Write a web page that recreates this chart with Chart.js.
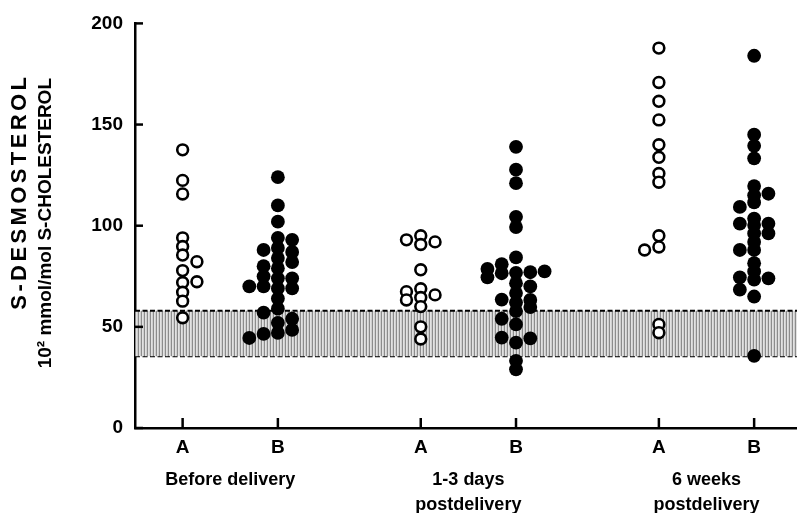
<!DOCTYPE html>
<html><head><meta charset="utf-8">
<script src="https://cdn.jsdelivr.net/npm/chart.js@4.4.1/dist/chart.umd.min.js"></script>
<style>html,body{margin:0;padding:0;background:#fff;overflow:hidden}#wrap{width:797px;height:513px}</style>
</head><body><div id="wrap"><canvas id="c" width="797" height="513"></canvas></div>
<script>
// ---- data ----
const categories = ['A', 'B', 'A', 'B', 'A', 'B'];
const categoryPos = [0, 1, 2.5, 3.5, 5, 6];
const groupLabels = [['Before delivery'], ['1-3 days', 'postdelivery'], ['6 weeks', 'postdelivery']];
const groupPos = [0.5, 3, 5.5];
const yTickValues = [0, 50, 100, 150, 200];
const referenceRange = [35.5, 58];
const yTitleLines = ['S-DESMOSTEROL', '10\u00B2 mmol/mol S-CHOLESTEROL'];

const beforeA = [137.5, 122.4, 115.7, 94, 89.7, 85.5, 77.8, 71.9, 67.1, 62.7, 54.5, 82.2, 72.3];
const beforeALanes = [0, 0, 0, 0, 0, 0, 0, 0, 0, 0, 0, 1, 1];
const beforeB = [124, 110, 102, 94, 89, 84, 79, 74, 69, 64, 59, 52, 47, 88, 80, 75, 70, 57, 46.5, 70, 44.5, 93, 87, 82, 74, 69, 54, 48.5];
const beforeBLanes = [0, 0, 0, 0, 0, 0, 0, 0, 0, 0, 0, 0, 0, -1, -1, -1, -1, -1, -1, -2, -2, 1, 1, 1, 1, 1, 1, 1];
const days13A = [95, 90.7, 78.2, 68.8, 64.5, 60, 50, 44, 93, 67.4, 63.3, 92, 65.8];
const days13ALanes = [0, 0, 0, 0, 0, 0, 0, 0, -1, -1, -1, 1, 1];
const days13B = [139, 127.7, 121, 104.4, 99.3, 84.3, 76.7, 71.6, 66.7, 62, 57.8, 51.2, 42.2, 33.2, 29, 78.6, 74.5, 81, 76.5, 63.5, 54, 44.7, 77, 70, 63.3, 59.8, 44.3, 77.4];
const days13BLanes = [0, 0, 0, 0, 0, 0, 0, 0, 0, 0, 0, 0, 0, 0, 0, -2, -2, -1, -1, -1, -1, -1, 1, 1, 1, 1, 1, 2];
const weeks6A = [187.8, 170.8, 161.5, 152.3, 140, 133.8, 125.8, 121.5, 95, 89.5, 51.2, 47.1, 88];
const weeks6ALanes = [0, 0, 0, 0, 0, 0, 0, 0, 0, 0, 0, 0, -1];
const weeks6B = [184, 145, 139.5, 133.3, 119.6, 115, 111.5, 103.5, 100.3, 96.2, 92, 88, 81.5, 77.4, 73.3, 65, 35.7, 109.3, 101, 88, 74.4, 68.4, 115.8, 101, 96.2, 74];
const weeks6BLanes = [0, 0, 0, 0, 0, 0, 0, 0, 0, 0, 0, 0, 0, 0, 0, 0, 0, -1, -1, -1, -1, -1, 1, 1, 1, 1];

// ---- styling ----
const X_MIN = -0.5, X_MAX = 6.45;
const LANE = 0.15;
const FONT = '"Liberation Sans", Arial, Helvetica, sans-serif';
function pts(pos, vals, lanes) { return vals.map((v, i) => ({ x: pos + lanes[i] * LANE, y: v })); }

const canvas = document.getElementById('c');
const ctx0 = canvas.getContext('2d');
const hatch = document.createElement('canvas');
hatch.width = 3; hatch.height = 4;
const hg = hatch.getContext('2d');
hg.fillStyle = '#e2e2e2'; hg.fillRect(0, 0, 3, 4);
hg.fillStyle = '#8c8c8c'; hg.fillRect(0, 0, 1, 4);
hg.fillStyle = '#cfcfcf'; hg.fillRect(2, 0, 1, 4);
const hatchPattern = ctx0.createPattern(hatch, 'repeat');

const openStyle = { pointRadius: 5.4, pointHoverRadius: 5.4, pointBorderWidth: 2.6, pointHoverBorderWidth: 2.6, pointBackgroundColor: '#fff', pointBorderColor: '#000', showLine: false };
const filledStyle = { pointRadius: 6.9, pointHoverRadius: 6.9, pointBorderWidth: 0, pointBackgroundColor: '#000', pointBorderColor: '#000', showLine: false };

const seriesList = [
  [beforeA, beforeALanes, openStyle], [beforeB, beforeBLanes, filledStyle],
  [days13A, days13ALanes, openStyle], [days13B, days13BLanes, filledStyle],
  [weeks6A, weeks6ALanes, openStyle], [weeks6B, weeks6BLanes, filledStyle]
];
const pointDatasets = seriesList.map((s, i) => Object.assign({
  type: 'scatter', label: categories[i], data: pts(categoryPos[i], s[0], s[1]), order: 1
}, s[2]));

const bandDatasets = [
  { type: 'line', label: 'ref-high', data: [{ x: X_MIN, y: referenceRange[1] }, { x: X_MAX, y: referenceRange[1] }],
    borderColor: '#000', borderWidth: 2, borderDash: [5, 2.5], pointRadius: 0, fill: '+1', backgroundColor: hatchPattern, order: 10 },
  { type: 'line', label: 'ref-low', data: [{ x: X_MIN, y: referenceRange[0] }, { x: X_MAX, y: referenceRange[0] }],
    borderColor: '#000', borderWidth: 2, borderDash: [5, 2.5], pointRadius: 0, fill: false, order: 10 }
];

const innerTicks = {
  id: 'innerTicks',
  afterDraw(chart) {
    const c = chart.ctx, ca = chart.chartArea;
    const ys = chart.scales.y, xs = chart.scales.x;
    c.save();
    c.strokeStyle = '#000'; c.lineWidth = 2.5;
    ys.ticks.forEach(t => { const y = ys.getPixelForValue(t.value); c.beginPath(); c.moveTo(ca.left, y); c.lineTo(ca.left + 8, y); c.stroke(); });
    xs.ticks.forEach(t => { const x = xs.getPixelForValue(t.value); c.beginPath(); c.moveTo(x, ca.bottom); c.lineTo(x, ca.bottom - 10); c.stroke(); });
    c.restore();
  }
};

function drawSpaced(c, text, xEnd, y, spacing) {
  const chars = Array.from(text);
  const widths = chars.map(ch => c.measureText(ch).width);
  const total = widths.reduce((a, b) => a + b, 0) + spacing * (chars.length - 1);
  let x = xEnd - total;
  c.textAlign = 'left';
  chars.forEach((ch, i) => { c.fillText(ch, x, y); x += widths[i] + spacing; });
}

const yTitle = {
  id: 'yTitle',
  afterDraw(chart) {
    const c = chart.ctx;
    c.save();
    c.fillStyle = '#000';
    c.textBaseline = 'middle';
    c.save();
    c.translate(20, 77); c.rotate(-Math.PI / 2);
    c.font = 'bold 22px ' + FONT;
    drawSpaced(c, yTitleLines[0], 0, 0, 3.4);
    c.restore();
    c.save();
    c.translate(46, 78); c.rotate(-Math.PI / 2);
    c.font = 'bold 19px ' + FONT;
    drawSpaced(c, yTitleLines[1], 0, 0, 0);
    c.restore();
    c.restore();
  }
};

const noSidePad = s => { s.paddingLeft = 0; s.paddingRight = 0; };

new Chart(canvas, {
  data: { datasets: [...bandDatasets, ...pointDatasets] },
  options: {
    responsive: false, animation: false, devicePixelRatio: 1,
    layout: { autoPadding: false, padding: { top: 20, left: 0, right: 0, bottom: 0 } },
    plugins: { legend: { display: false }, tooltip: { enabled: false }, title: { display: false } },
    scales: {
      x: {
        type: 'linear', min: X_MIN, max: X_MAX, position: 'bottom', weight: 0, z: 1,
        grid: { display: false, drawTicks: false },
        border: { display: true, color: '#000', width: 2.5 },
        afterBuildTicks: s => { s.ticks = categoryPos.map(v => ({ value: v })); },
        ticks: { callback: (v, i) => categories[i], font: { family: FONT, size: 19, weight: 'bold' }, color: '#000', padding: 8, autoSkip: false, maxRotation: 0 },
        afterFit: s => { s.height = 30; noSidePad(s); }
      },
      x2: {
        type: 'linear', min: X_MIN, max: X_MAX, position: 'bottom', weight: 1,
        grid: { display: false, drawTicks: false },
        border: { display: false },
        afterBuildTicks: s => { s.ticks = groupPos.map(v => ({ value: v })); },
        ticks: { callback: (v, i) => groupLabels[i], font: { family: FONT, size: 18, weight: 'bold', lineHeight: 1.38 }, color: '#000', padding: 10, autoSkip: false, maxRotation: 0 },
        afterFit: s => { s.height = 55; noSidePad(s); }
      },
      y: {
        type: 'linear', min: 0, max: 200, position: 'left', z: 1,
        grid: { display: false, drawTicks: false },
        border: { display: true, color: '#000', width: 2.5 },
        afterBuildTicks: s => { s.ticks = yTickValues.map(v => ({ value: v })); },
        ticks: { font: { family: FONT, size: 19, weight: 'bold' }, color: '#000', padding: 12 },
        afterFit: s => { s.width = 135; }
      }
    }
  },
  plugins: [innerTicks, yTitle]
});
</script></body></html>
